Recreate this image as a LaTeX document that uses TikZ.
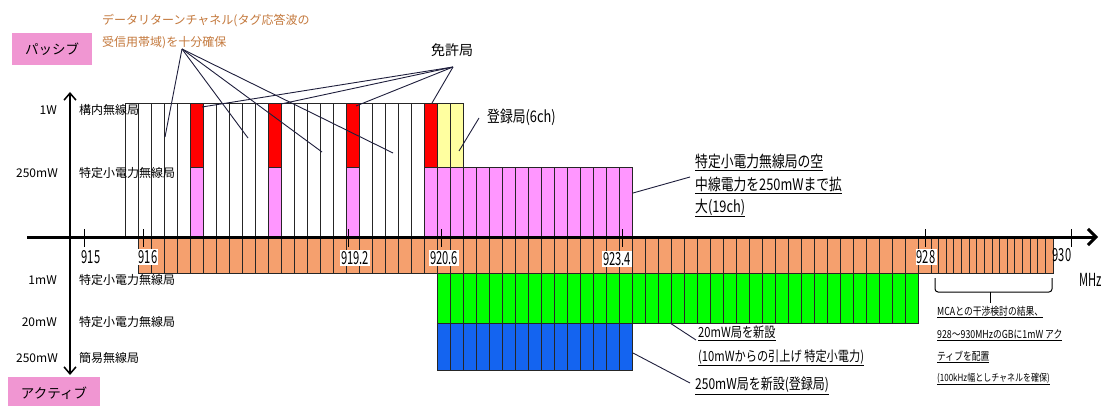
\documentclass[tikz,border=0pt]{standalone}
\usepackage{fontspec}
\setmainfont{Noto Sans CJK JP}
\newfontfamily\narrowfont[FakeStretch=0.8]{Noto Sans CJK JP}
\newfontfamily\tallfont[FakeStretch=0.62]{Noto Sans CJK JP}
\usetikzlibrary{arrows.meta}
\definecolor{passpink}{RGB}{240,150,210}
\definecolor{barpink}{RGB}{255,150,255}
\definecolor{barred}{RGB}{255,0,0}
\definecolor{baryellow}{RGB}{255,255,160}
\definecolor{barorange}{RGB}{245,160,110}
\definecolor{bargreen}{RGB}{0,255,0}
\definecolor{barblue}{RGB}{20,100,240}
\definecolor{annobrown}{RGB}{195,120,60}
\definecolor{leadcol}{RGB}{30,30,60}
\tikzset{
  cell/.style={draw=black!85, line width=0.8pt},
  leader/.style={draw=leadcol, line width=0.9pt},
  lab/.style={font=\fontsize{12}{14}\selectfont, inner sep=1pt},
  numlab/.style={font=\tallfont\fontsize{18}{20}\selectfont, fill=white, inner sep=1.2pt},
  anno/.style={font=\narrowfont\fontsize{16}{18}\selectfont, anchor=west, inner sep=0pt},
  midanno/.style={font=\narrowfont\fontsize{14}{16}\selectfont, anchor=west, inner sep=0pt},
  smallanno/.style={font=\narrowfont\fontsize{11}{13}\selectfont, anchor=west, inner sep=0pt},
  brownanno/.style={font=\fontsize{12}{14}\selectfont, text=annobrown, anchor=west, inner sep=0pt},
  modebox/.style={fill=passpink, inner sep=0pt, font=\fontsize{13.5}{15}\selectfont},
}
\begin{document}
\begin{tikzpicture}[x=1pt,y=-1pt]
\useasboundingbox (0,0) rectangle (1105,406);
% mode boxes
\node[modebox, minimum width=80pt, minimum height=32pt] (passive) at (52,49) {パッシブ};
\node[modebox, minimum width=92pt, minimum height=32pt, anchor=north] (active) at (54,377) {アクティブ};
% top white channels
\foreach \k in {0,...,25} { \draw[cell, fill=white] ({125+13*\k},103) rectangle ++(13,134); }
% pink 250mW block
\foreach \k in {23,...,38} { \draw[cell, fill=barpink] ({125+13*\k},167) rectangle ++(13,70); }
% red license + pink under
\foreach \k in {5,11,17} { \draw[cell, fill=barpink] ({125+13*\k},167) rectangle ++(13,70); }
\foreach \k in {5,11,17,23} { \draw[cell, fill=barred] ({125+13*\k},103) rectangle ++(13,64); }
\foreach \k in {24,25} { \draw[cell, fill=baryellow] ({125+13*\k},103) rectangle ++(13,64); }
% orange 1mW band
\foreach \k in {1,...,61} { \draw[cell, fill=barorange] ({125+13*\k},237) rectangle ++(13,36); }
\foreach \i in {0,...,15} { \draw[cell, fill=barorange] ({931+7.625*\i},237) rectangle ++(7.625,36); }
% green 20mW band
\foreach \k in {24,...,60} { \draw[cell, fill=bargreen] ({125+13*\k},273) rectangle ++(13,50); }
% blue 250mW band
\foreach \k in {24,...,38} { \draw[cell, fill=barblue] ({125+13*\k},323) rectangle ++(13,47); }
% axes
\coordinate (axL) at (27,237);
\coordinate (axR) at (1098,237);
\draw[line width=3pt, -{Straight Barb[length=8pt,width=16pt]}] (axL) -- (axR);
\coordinate (vBot) at (70,375);
\coordinate (vTop) at (70,92);
\draw[line width=1.5pt, {Straight Barb[length=7pt,width=12pt]}-{Straight Barb[length=7pt,width=12pt]}] (vBot) -- (vTop);
% ticks
\foreach \x in {84,143,348,441,622,925,1071} { \draw[line width=1pt] (\x,229) -- (\x,247); }
% frequency labels
\node[numlab, fill=none] (f915) at (91,257) {915};
\node[numlab] (f916) at (148,257) {916};
\node[numlab] (f9192) at (355,258) {919.2};
\node[numlab] (f9206) at (444,258) {920.6};
\node[numlab] (f9234) at (617,259) {923.4};
\node[numlab] (f928) at (926,257) {928};
\node[numlab, fill=none] (f930) at (1062,255) {930};
\node[numlab, fill=none] (mhz) at (1091,280) {MHz};
% power labels
\node[lab, anchor=east] (p1w) at (58,110) {1W};
\node[lab, anchor=east] (p250a) at (59,173) {250mW};
\node[lab, anchor=east] (p1mw) at (58,280) {1mW};
\node[lab, anchor=east] (p20mw) at (58,322) {20mW};
\node[lab, anchor=east] (p250b) at (59,358) {250mW};
\node[lab, anchor=west] (c1) at (78,110) {構内無線局};
\node[lab, anchor=west] (c2) at (78,173) {特定小電力無線局};
\node[lab, anchor=west] (c3) at (78,280) {特定小電力無線局};
\node[lab, anchor=west] (c4) at (78,322) {特定小電力無線局};
\node[lab, anchor=west] (c5) at (78,358) {簡易無線局};
% data return channel annotation
\node[brownanno] (dt1) at (102,21) {データリターンチャネル(タグ応答波の};
\node[brownanno] (dt2) at (102,43) {受信用帯域)を十分確保};
\coordinate (dtfoot) at (182,49);
\coordinate (dA) at (165,137);
\coordinate (dB) at (248,138);
\coordinate (dC) at (322,152);
\coordinate (dD) at (393,153);
\foreach \t in {dA,dB,dC,dD} { \draw[leader] (dtfoot) -- (\t); }
% license stations
\node[font=\fontsize{14}{16}\selectfont, inner sep=1pt] (lic) at (452,50) {免許局};
\coordinate (licfoot) at (453,67);
\coordinate (lA) at (202,107);
\coordinate (lB) at (281,104);
\coordinate (lC) at (356,106);
\coordinate (lD) at (432,103);
\foreach \t in {lA,lB,lC,lD} { \draw[leader] (licfoot) -- (\t); }
% registered stations
\node[anno] (reg) at (487,117) {登録局(6ch)};
\coordinate (regfoot) at (479,118);
\coordinate (regT) at (459,151);
\draw[leader] (regfoot) -- (regT);
% 250mW expansion
\node[anno] (e1) at (695,162) {\underline{特定小電力無線局の空}};
\node[anno] (e2) at (695,185) {\underline{中線電力を250mWまで拡}};
\node[anno] (e3) at (695,208) {\underline{大(19ch)}};
\coordinate (eS) at (633,193);
\coordinate (eT) at (690,177);
\draw[leader] (eS) -- (eT);
% 20mW new
\node[midanno] (g1) at (698,333) {\underline{20mW局を新設}};
\node[midanno] (g2) at (698,358) {\underline{(10mWからの引上げ 特定小電力)}};
\coordinate (gS) at (670,323);
\coordinate (gT) at (696,340);
\draw[leader] (gS) -- (gT);
% 250mW new
\node[font=\narrowfont\fontsize{15}{17}\selectfont, anchor=west, inner sep=0pt] (b1) at (695,386) {\underline{250mW局を新設(登録局)}};
\coordinate (bS) at (633,353);
\coordinate (bT) at (690,383);
\draw[leader] (bS) -- (bT);
% MCA brace and note
\coordinate (brL) at (935,278);
\coordinate (brM) at (990,292);
\coordinate (brTip) at (990,303);
\coordinate (brR) at (1052,278);
\draw[line width=1pt, rounded corners=3pt] (brL) |- (brM) -| (brR);
\draw[line width=1pt] (brM) -- (brTip);
\node[smallanno] (m1) at (937,312) {\underline{MCAとの干渉検討の結果、}};
\node[smallanno] (m2) at (937,335) {\underline{928〜930MHzのGBに1mW アク}};
\node[smallanno] (m3) at (937,357) {\underline{ティブを配置}};
\node[font=\narrowfont\fontsize{10}{12}\selectfont, anchor=west, inner sep=0pt] (m4) at (937,379) {\underline{(100kHz幅としチャネルを確保)}};
\end{tikzpicture}
\end{document}
